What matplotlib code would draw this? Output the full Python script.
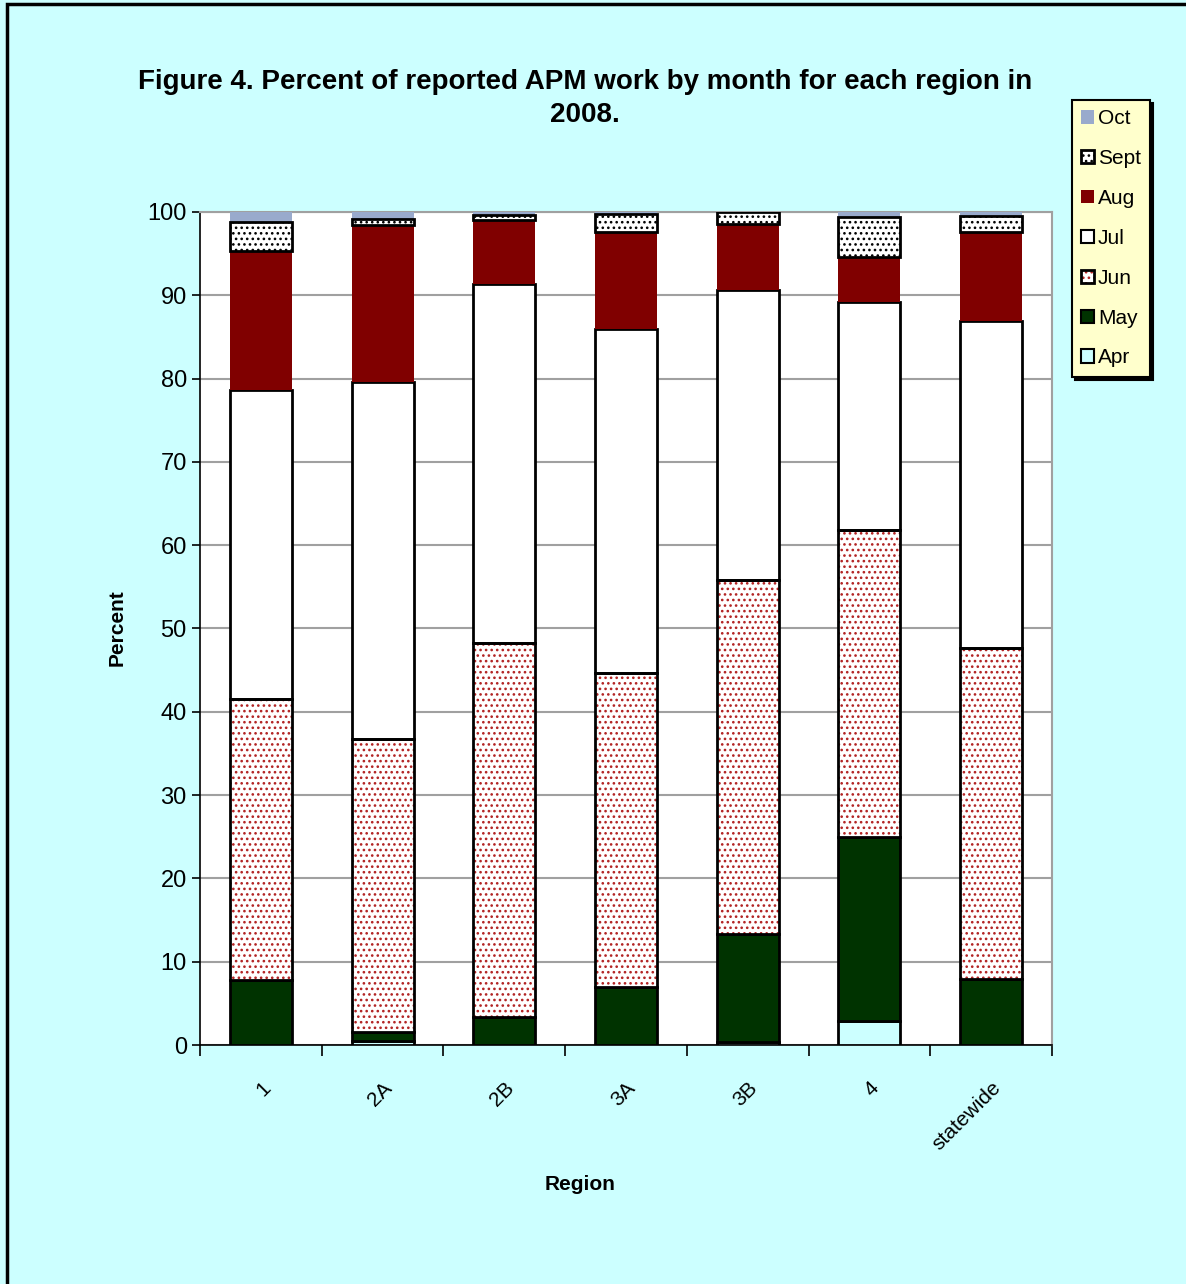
import numpy as np
import matplotlib.pyplot as plt
from matplotlib.patches import Rectangle, Patch

plt.rcParams['font.family'] = ['Liberation Sans', 'DejaVu Sans']
plt.rcParams['hatch.linewidth'] = 1.1

regions = ['1', '2A', '2B', '3A', '3B', '4', 'statewide']
months = ['Apr', 'May', 'Jun', 'Jul', 'Aug', 'Sept', 'Oct']

apr = [0.0, 0.5, 0.0, 0.0, 0.4, 2.9, 0.0]
may = [7.8, 1.1, 3.4, 7.0, 12.9, 22.1, 7.9]
jun = [33.7, 35.1, 44.9, 37.7, 42.5, 36.8, 39.8]
jul = [37.1, 42.9, 43.1, 41.3, 34.8, 27.4, 39.2]
aug = [16.7, 18.8, 7.6, 11.6, 8.0, 5.4, 10.7]
sept = [3.5, 0.8, 0.6, 2.2, 1.4, 4.8, 1.9]
octo = [1.2, 0.8, 0.4, 0.2, 0.0, 0.6, 0.5]

series = [apr, may, jun, jul, aug, sept, octo]
# face, edge, hatch, hatch colour
styles = [
    ('#CCFFFF', 'black', None, None),
    ('#003300', 'black', None, None),
    ('white', 'black', '...', '#B22222'),
    ('white', 'black', None, None),
    ('#800000', 'none', None, None),
    ('white', 'black', '...', 'black'),
    ('#99AACC', 'none', None, None),
]

fig = plt.figure(figsize=(11.86, 12.84), dpi=100)
fig.patch.set_facecolor('#CCFFFF')
fig.add_artist(Rectangle((7 / 1186, -0.05), 1.2, 1 - 4 / 1284 + 0.05,
                         transform=fig.transFigure, fill=False,
                         edgecolor='black', linewidth=2.5))

ax = fig.add_axes([200 / 1186, 1 - 1045 / 1284, 852 / 1186, 833 / 1284])
ax.set_facecolor('white')

x = np.arange(len(regions))
width = 0.51
bottom = np.zeros(len(regions))
for vals, (fc, ec, hatch, hc) in zip(series, styles):
    vals = np.array(vals)
    if hatch:
        ax.bar(x, vals, width, bottom=bottom, color=fc, edgecolor=hc,
               hatch=hatch, linewidth=0, zorder=3)
        ax.bar(x, vals, width, bottom=bottom, fill=False, edgecolor=ec,
               linewidth=2, zorder=4)
    else:
        ax.bar(x, vals, width, bottom=bottom, color=fc, edgecolor=ec,
               linewidth=2 if ec != 'none' else 0, zorder=3)
    bottom += vals

ax.set_xlim(-0.5, len(regions) - 0.5)
ax.set_ylim(0, 100)
ax.set_yticks(np.arange(0, 101, 10))
ax.yaxis.grid(True, color='#A0A0A0', linewidth=1.5, zorder=0)
ax.tick_params(axis='y', labelsize=17, length=6, width=1.2)

ax.set_xticks(x)
ax.set_xticklabels(regions, rotation=45, ha='right', rotation_mode='anchor',
                   fontsize=15)
ax.set_xticks(np.arange(-0.5, len(regions), 1), minor=True)
ax.tick_params(axis='x', which='major', length=0, pad=24)
ax.tick_params(axis='x', which='minor', length=8, width=1.2)

for s in ['top', 'right']:
    ax.spines[s].set_color('#A0A0A0')
    ax.spines[s].set_linewidth(1.5)
for s in ['left', 'bottom']:
    ax.spines[s].set_linewidth(1.2)

fig.text(580 / 1186, 1 - 1184 / 1284, 'Region', ha='center', va='center',
         fontsize=15, fontweight='bold')
fig.text(117 / 1186, 1 - 628 / 1284, 'Percent', ha='center', va='center',
         rotation=90, fontsize=15, fontweight='bold')

fig.text(585 / 1186, 1 - 82 / 1284,
         'Figure 4. Percent of reported APM work by month for each region in',
         ha='center', va='center', fontsize=20, fontweight='bold')
fig.text(585 / 1186, 1 - 115 / 1284, '2008.',
         ha='center', va='center', fontsize=20, fontweight='bold')

handles = []
for m, (fc, ec, hatch, hc) in zip(months, styles):
    if hatch:
        handles.append((Patch(facecolor=fc, edgecolor=hc, hatch=hatch,
                              linewidth=0),
                        Patch(fill=False, edgecolor=ec, linewidth=2)))
    else:
        handles.append(Patch(facecolor=fc, edgecolor=ec,
                             linewidth=1.5 if ec != 'none' else 0))
leg = fig.legend(handles[::-1], months[::-1], loc='upper left',
                 bbox_to_anchor=(1072 / 1186, 1 - 100 / 1284),
                 fontsize=15, frameon=True, fancybox=False,
                 shadow={'color': 'black', 'alpha': 1},
                 handlelength=0.6, handleheight=0.6, handletextpad=0.2,
                 labelspacing=1.0, borderpad=0.45, borderaxespad=0)
leg.get_frame().set_facecolor('#FFFFCC')
leg.get_frame().set_edgecolor('black')
leg.get_frame().set_linewidth(1.5)

fig.savefig('out.png', dpi=100, facecolor=fig.get_facecolor())
